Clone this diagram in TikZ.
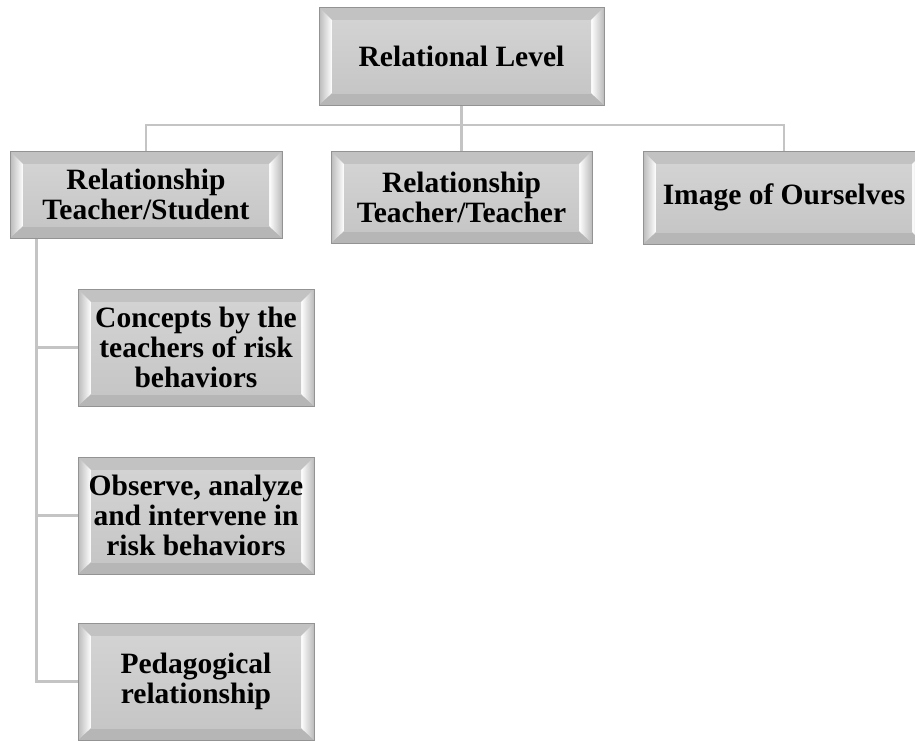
\documentclass[tikz,border=0pt]{standalone}
\usepackage{fontspec}
\setmainfont{Liberation Serif}
\usepackage{tikz}

\definecolor{boxline}{HTML}{939393}
\definecolor{boxtop}{HTML}{C2C2C2}
\definecolor{boxbot}{HTML}{B6B6B6}
\definecolor{boxside}{HTML}{BABABA}
\definecolor{facetop}{HTML}{D3D3D3}
\definecolor{facebot}{HTML}{C6C6C6}
\definecolor{linkgray}{HTML}{C4C4C4}

\begin{document}
\begin{tikzpicture}[x=1pt,y=-1pt]
  \tikzstyle{b} = [rectangle, draw=boxline, line width=1pt, fill=boxtop, inner sep=0pt, align=center,
    font=\fontsize{29.5}{30}\selectfont\bfseries,
    path picture={
      \path (path picture bounding box.north west) coordinate (pNW)
            (path picture bounding box.north east) coordinate (pNE)
            (path picture bounding box.south west) coordinate (pSW)
            (path picture bounding box.south east) coordinate (pSE);
      \path ([shift={(13pt,-13pt)}]pNW) coordinate (qNW)
            ([shift={(-13pt,-13pt)}]pNE) coordinate (qNE)
            ([shift={(13pt,12pt)}]pSW) coordinate (qSW)
            ([shift={(-13pt,12pt)}]pSE) coordinate (qSE);
      \fill[boxtop] (pNW) -- (pNE) -- (qNE) -- (qNW) -- cycle;
      \fill[boxbot] (pSW) -- (pSE) -- (qSE) -- (qSW) -- cycle;
      \shade[left color=boxside, right color=white] (pNW) -- (qNW) -- (qSW) -- (pSW) -- cycle;
      \shade[left color=white, right color=boxside] (pNE) -- (qNE) -- (qSE) -- (pSE) -- cycle;
      \shade[top color=facetop, bottom color=facebot] (qNW) rectangle (qSE);
    }]
  \tikzstyle{e} = [draw=linkgray, line width=2.5pt];

  \useasboundingbox (0,0) rectangle (915,740);
  \clip (0,0) rectangle (915,740);

  \node[b, minimum width=285pt, minimum height=98pt](rl) at (461.5,56){Relational Level};
  \node[b, minimum width=272pt, minimum height=87pt](ts) at (146,194.5){Relationship\\Teacher/Student};
  \node[b, minimum width=261pt, minimum height=92pt](tt) at (461.5,197){Relationship\\Teacher/Teacher};
  \node[b, minimum width=282pt, minimum height=93pt](img) at (784,197.5){Image of Ourselves};
  \node[b, minimum width=236pt, minimum height=117pt](c1) at (196,347.5){Concepts by the\\teachers of risk\\behaviors};
  \node[b, minimum width=236pt, minimum height=117pt](c2) at (196,515.5){Observe, analyze\\and intervene in\\risk behaviors};
  \node[b, minimum width=236pt, minimum height=117pt](c3) at (196,681.5){Pedagogical\\relationship};

  \coordinate (bus) at (461.5,125);
  \coordinate (sp) at ([xshift=27pt]ts.south west);

  \draw[e](rl.south)--(bus);
  \draw[e](ts.north)|-(bus)-|(img.north);
  \draw[e](bus)--(tt.north);
  \draw[e](sp)|-(c3.west);
  \draw[e](sp |- c1.west)--(c1.west);
  \draw[e](sp |- c2.west)--(c2.west);

\end{tikzpicture}
\end{document}
